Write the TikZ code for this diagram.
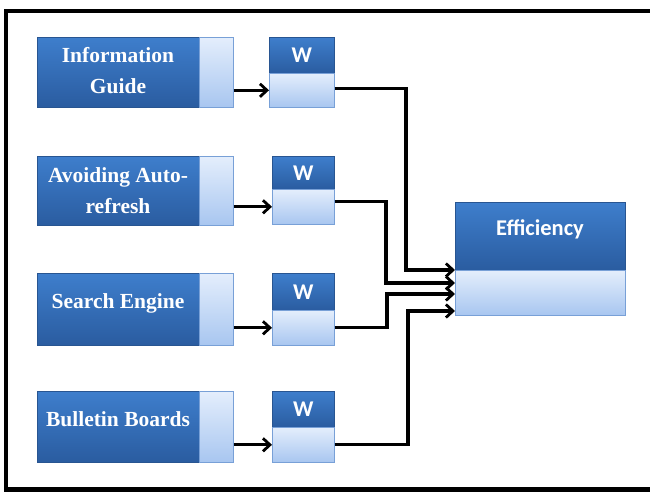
\documentclass[tikz,border=0pt]{standalone}
\usepackage{fontspec}
\setmainfont{Liberation Serif}
\newfontfamily\labelfont{Carlito}
\usetikzlibrary{arrows.meta,calc}

\definecolor{darkTop}{RGB}{62,126,204}
\definecolor{darkBot}{RGB}{42,92,160}
\definecolor{darkEdge}{RGB}{40,85,145}
\definecolor{lightTop}{RGB}{228,238,252}
\definecolor{lightBot}{RGB}{168,198,240}
\definecolor{lightEdge}{RGB}{120,160,215}

\tikzset{
  darkpart/.style={draw=darkEdge, line width=0.6pt, top color=darkTop, bottom color=darkBot,
    anchor=north west, inner sep=0pt, minimum width=#1},
  lightpart/.style={draw=lightEdge, line width=0.6pt, top color=lightTop, bottom color=lightBot,
    anchor=north west, inner sep=0pt, minimum width=#1},
  srclabel/.style={text=white, font=\fontsize{21.5}{31}\selectfont\bfseries, align=center, inner sep=0pt},
  wlabel/.style={text=white, font=\labelfont\fontsize{22.5}{26}\selectfont\bfseries, inner sep=0pt},
  conn/.style={draw=black, line width=3.2pt, -{Straight Barb[length=7pt,width=13pt,line width=2.8pt]}},
}

\begin{document}
\begin{tikzpicture}[x=1pt,y=-1pt]
\useasboundingbox (0,0) rectangle (650,491);
\clip (0,0) rectangle (650,491);
\fill[white] (0,0) rectangle (650,491);

% outer frame (runs past the right edge)
\draw[line width=4.6pt] (6,11) rectangle (700,489.5);

% source boxes: dark label part plus light strip
\node[darkpart=162pt, minimum height=70pt] (s1) at (37,37) {};
\node[lightpart=34pt, minimum height=70pt] (s1l) at (199,37) {};
\node[darkpart=162pt, minimum height=69pt] (s2) at (37,156) {};
\node[lightpart=34pt, minimum height=69pt] (s2l) at (199,156) {};
\node[darkpart=162pt, minimum height=72pt] (s3) at (37,273) {};
\node[lightpart=34pt, minimum height=72pt] (s3l) at (199,273) {};
\node[darkpart=162pt, minimum height=71pt] (s4) at (37,391) {};
\node[lightpart=34pt, minimum height=71pt] (s4l) at (199,391) {};

% labels; for two-line labels the base anchor sits on the last line
\node[srclabel, anchor=base] (t1) at (118,93) {Information\\Guide};
\node[srclabel, anchor=base] (t2) at (118,213) {Avoiding Auto-\\refresh};
\node[srclabel, anchor=base] (t3) at (118,308) {Search Engine};
\node[srclabel, anchor=base] (t4) at (118,426) {Bulletin Boards};

% weight boxes
\node[darkpart=65pt, minimum height=36pt] (w1) at (269,37) {};
\node[lightpart=65pt, minimum height=34pt] (w1l) at (269,73) {};
\node[darkpart=62pt, minimum height=33pt] (w2) at (272,156) {};
\node[lightpart=62pt, minimum height=35pt] (w2l) at (272,189) {};
\node[darkpart=62pt, minimum height=37pt] (w3) at (272,273) {};
\node[lightpart=62pt, minimum height=35pt] (w3l) at (272,310) {};
\node[darkpart=62pt, minimum height=36pt] (w4) at (272,391) {};
\node[lightpart=62pt, minimum height=35pt] (w4l) at (272,427) {};

\node[wlabel] at (w1.center) {W};
\node[wlabel] at (w2.center) {W};
\node[wlabel] at (w3.center) {W};
\node[wlabel] at (w4.center) {W};

% target box
\node[darkpart=170pt, minimum height=68pt] (e) at (455,202) {};
\node[lightpart=170pt, minimum height=45pt] (el) at (455,270) {};
\node[wlabel, anchor=base] (et) at (540,235) {Efficiency};

% source -> weight
\draw[conn] (s1l.east |- w1l.west) -- (w1l.west);
\draw[conn] (s2l.east |- w2l.west) -- (w2l.west);
\draw[conn] (s3l.east |- w3l.west) -- (w3l.west);
\draw[conn] (s4l.east |- w4l.west) -- (w4l.west);

% weight -> efficiency
\coordinate (in1) at (455,270);
\coordinate (in2) at (455,283);
\coordinate (in3) at (455,294);
\coordinate (in4) at (455,311);
\coordinate (o1) at ($(w1l.east)+(0,-2)$);
\coordinate (o2) at ($(w2l.east)+(0,-5)$);
\coordinate (o3) at (w3l.east);
\coordinate (o4) at (w4l.east);
\draw[conn] (o1) -- (406,0 |- o1) |- (in1);
\draw[conn] (o2) -- (386,0 |- o2) |- (in2);
\draw[conn] (o3) -- (387,0 |- o3) |- (in3);
\draw[conn] (o4) -- (408,0 |- o4) |- (in4);
\end{tikzpicture}
\end{document}
